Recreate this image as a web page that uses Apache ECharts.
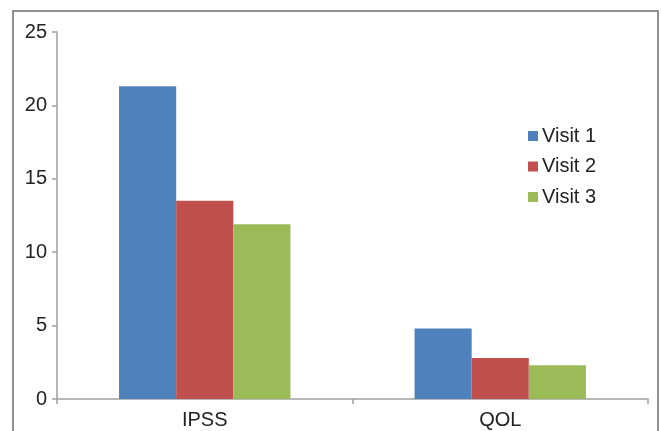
<!DOCTYPE html>
<html>
<head>
<meta charset="utf-8">
<script src="https://cdn.jsdelivr.net/npm/echarts@6/dist/echarts.min.js"></script>
<style>
html,body{margin:0;padding:0;background:#fff;}
#c{width:662px;height:431px;}
</style>
</head>
<body>
<div id="c"></div>
<script>
var categories = ['IPSS', 'QOL'];
var visit1 = [21.3, 4.8];
var visit2 = [13.5, 2.8];
var visit3 = [11.9, 2.3];
var seriesNames = ['Visit 1', 'Visit 2', 'Visit 3'];
var colors = ['#4F81BD', '#C0504D', '#9BBB59'];

var chart = echarts.init(document.getElementById('c'), null, {renderer: 'canvas'});
var font = 'Liberation Sans, Arial, sans-serif';
var option = {
  animation: false,
  color: colors,
  grid: {left: 57, right: 14, top: 32, bottom: 32},
  graphic: [{
    type: 'rect',
    shape: {x: 13, y: 11, width: 645, height: 440},
    style: {fill: 'none', stroke: '#6e6e6e', lineWidth: 1.5},
    silent: true
  }],
  legend: {
    orient: 'vertical',
    left: 528,
    top: 126,
    padding: 0,
    itemWidth: 10,
    itemHeight: 10,
    itemGap: 10.5,
    icon: 'rect',
    textStyle: {fontFamily: font, fontSize: 20, color: '#222', padding: [0,0,0,-1], lineHeight: 20},
    data: seriesNames
  },
  xAxis: {
    type: 'category',
    data: categories,
    axisLine: {lineStyle: {color: '#a0a0a0', width: 1.5}},
    axisTick: {show: true, length: 5, lineStyle: {color: '#a0a0a0', width: 1.5}},
    axisLabel: {fontFamily: font, fontSize: 20, color: '#222', margin: 11}
  },
  yAxis: {
    type: 'value',
    min: 0, max: 25, interval: 5,
    splitLine: {show: false},
    axisLine: {show: true, lineStyle: {color: '#a0a0a0', width: 1.5}},
    axisTick: {show: true, length: 5, lineStyle: {color: '#a0a0a0', width: 1.5}},
    axisLabel: {fontFamily: font, fontSize: 20, color: '#222', margin: 10}
  },
  series: [
    {name: seriesNames[0], type: 'bar', data: visit1, barGap: '0%', barCategoryGap: '42%'},
    {name: seriesNames[1], type: 'bar', data: visit2, barGap: '0%', barCategoryGap: '42%'},
    {name: seriesNames[2], type: 'bar', data: visit3, barGap: '0%', barCategoryGap: '42%'}
  ]
};
chart.setOption(option);
</script>
</body>
</html>
